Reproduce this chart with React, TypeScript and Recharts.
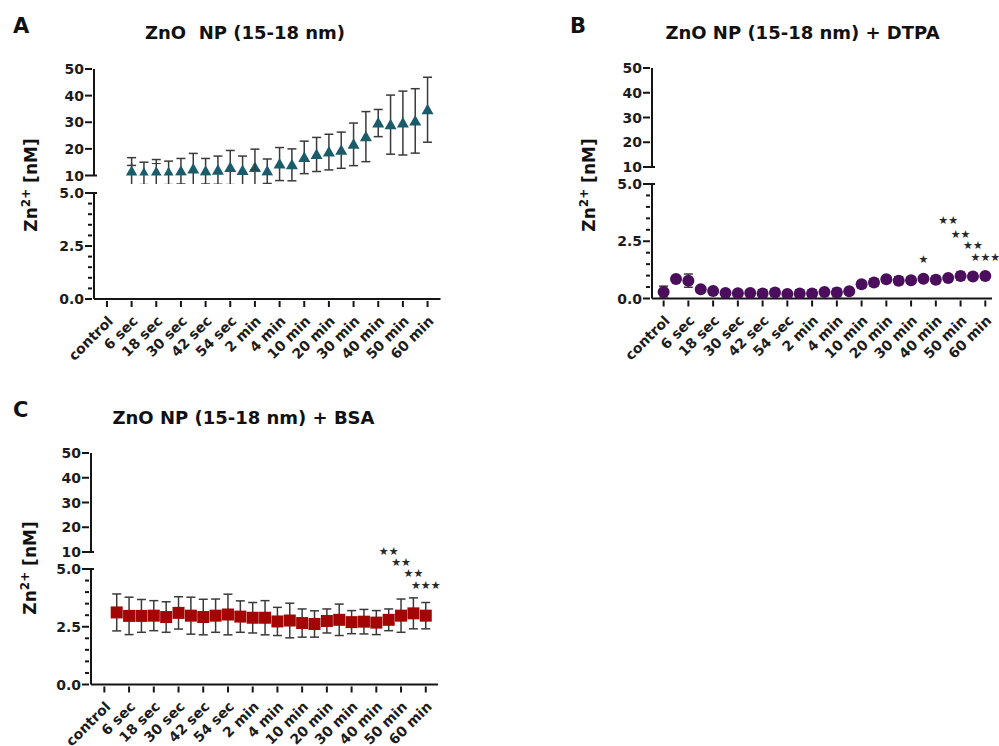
import React from 'react';
import { ScatterChart, Scatter, XAxis, YAxis, ErrorBar } from 'recharts';

// time points on the x axis; only every second one carries a label
const timepoints = [
  'control', '0 sec', '6 sec', '12 sec', '18 sec', '24 sec', '30 sec', '36 sec', '42 sec',
  '48 sec', '54 sec', '1 min', '2 min', '3 min', '4 min', '5 min', '10 min', '15 min',
  '20 min', '25 min', '30 min', '35 min', '40 min', '45 min', '50 min', '55 min', '60 min',
];
const labelledSlots = timepoints.map((_, i) => i).filter((i) => i % 2 === 0);

const upperTicks = [10, 20, 30, 40, 50];
const lowerTicks = [0, 0.5, 1, 1.5, 2, 2.5, 3, 3.5, 4, 4.5, 5];
const lowerMajor = [0, 2.5, 5];

// A: ZnO NP alone
const npMean = [null, null, 11.5, 10.8, 11.2, 11.0, 11.6, 12.4, 11.6, 12.0, 13.0, 11.9, 13.0, 11.6, 14.3, 14.0, 16.8, 17.9, 18.8, 19.5, 21.7, 24.6, 29.7, 29.1, 29.7, 30.5, 34.7];
const npErr = [null, null, 5.2, 4.2, 4.8, 4.4, 4.8, 5.9, 4.8, 5.3, 6.4, 5.4, 6.9, 4.6, 6.2, 6.0, 6.1, 6.4, 6.7, 6.8, 8.0, 9.4, 5.1, 11.1, 12.0, 12.1, 12.2];

// B: + DTPA
const dtpaMean = [0.28, 0.85, 0.78, 0.40, 0.33, 0.24, 0.23, 0.24, 0.22, 0.26, 0.20, 0.22, 0.22, 0.28, 0.26, 0.32, 0.62, 0.70, 0.84, 0.78, 0.80, 0.86, 0.82, 0.90, 0.98, 0.96, 0.98];
const dtpaErr = [0.26, 0.04, 0.29, 0.04, 0.04, 0.03, 0.03, 0.12, 0.16, 0.15, 0.03, 0.16, 0.14, 0.03, 0.18, 0.03, 0.15, 0.16, 0.14, 0.17, 0.13, 0.04, 0.16, 0.04, 0.17, 0.04, 0.12];
const dtpaStarSlots = [21, 23, 24, 25, 26];
const dtpaStarMarks = ['★', '★★', '★★', '★★', '★★★'];
const dtpaStarLevels = [0.85, 2.52, 1.94, 1.42, 0.9];

// C: + BSA
const bsaMean = [null, 3.12, 2.97, 2.97, 2.98, 2.92, 3.10, 2.98, 2.92, 2.98, 3.03, 2.94, 2.89, 2.89, 2.73, 2.77, 2.66, 2.62, 2.75, 2.80, 2.70, 2.72, 2.68, 2.80, 2.98, 3.08, 2.98];
const bsaErr = [null, 0.80, 0.81, 0.71, 0.65, 0.66, 0.70, 0.80, 0.77, 0.72, 0.88, 0.68, 0.66, 0.74, 0.61, 0.75, 0.61, 0.57, 0.52, 0.68, 0.50, 0.53, 0.52, 0.47, 0.72, 0.67, 0.57];
const bsaStarSlots = [23, 24, 25, 26];
const bsaStarMarks = ['★★', '★★', '★★', '★★★'];
const bsaStarLevels = [4.9, 4.42, 3.95, 3.41];

const FONT = '"DejaVu Sans", sans-serif';
const INK = '#151515';
const YW = 60; // y axis width
const MR = 20;
const XH = 80;

const yTick = (majors: number[], breakAt: number, fmt: (v: number) => string) => (props: any) => {
  const { x, y, payload } = props;
  const v = payload.value;
  const major = majors.includes(v);
  return (
    <g>
      <line x1={x - (major ? 7 : 4)} x2={v === breakAt ? x + 5 : x} y1={y} y2={y} stroke={INK} strokeWidth={2} />
      {major && (
        <text x={x - 8} y={y} dy="0.36em" textAnchor="end" fontFamily={FONT} fontWeight="bold" fontSize={14} fill="#1c1c1c">
          {fmt(v)}
        </text>
      )}
    </g>
  );
};

const XTick = (props: any) => {
  const { x, y, payload } = props;
  return (
    <g>
      <line x1={x} x2={x} y1={y} y2={y + 6} stroke={INK} strokeWidth={2} />
      <text transform={`translate(${x + 7},${y + 21}) rotate(-45)`} textAnchor="end" fontFamily={FONT} fontWeight="bold" fontSize={14} fill="#1c1c1c">
        {timepoints[payload.value]}
      </text>
    </g>
  );
};

const triangle = (p: any) => (
  <path d={`M${p.cx},${p.cy - 6}L${p.cx + 6},${p.cy + 4.5}L${p.cx - 6},${p.cy + 4.5}Z`} fill="#1b5c6a" />
);
const circle = (p: any) => <circle cx={p.cx} cy={p.cy} r={6} fill="#4a0e5c" />;
const square = (p: any) => <rect x={p.cx - 6} y={p.cy - 6} width={12} height={12} fill="#a30505" />;
const starText = (p: any) => (
  <text x={p.cx} y={p.cy - 20} textAnchor="middle" dominantBaseline="central" fontFamily={FONT} fontSize={11} fill="#2a2a2a">
    {p.payload.mark}
  </text>
);

const axisLine = { stroke: INK, strokeWidth: 2 };

type Geom = { left: number; right: number; top: number; y10: number; y5: number; y0: number; xMin: number; xMax: number };

function Panel({ g, mean, err, shape, starSlots, starMarks, starLevels }: any) {
  const points = mean
    .map((m: number | null, i: number) => ({ slot: i, mean: m, err: err[i] }))
    .filter((p: any) => p.mean != null);
  const stars = (starSlots || []).map((s: number, i: number) => ({ slot: s, level: starLevels[i], mark: starMarks[i] }));
  const geom = g as Geom;
  const W = YW + (geom.right - geom.left) + MR;
  const topMT = 12;
  const lowMT = 30;
  const xAxis = (hide: boolean) => (
    <XAxis
      type="number"
      dataKey="slot"
      domain={[geom.xMin, geom.xMax]}
      hide={hide}
      ticks={labelledSlots}
      interval={0}
      tick={XTick}
      tickLine={false}
      tickSize={0}
      height={hide ? 0 : XH}
      axisLine={axisLine}
    />
  );
  const series = (
    <Scatter data={points} dataKey="mean" shape={shape} isAnimationActive={false}>
      <ErrorBar dataKey="err" direction="y" width={4.5} stroke="#3a3a3a" strokeWidth={1.5} />
    </Scatter>
  );
  return (
    <>
      <div style={{ position: 'absolute', left: geom.left - YW, top: geom.top - topMT }}>
        <ScatterChart width={W} height={topMT + (geom.y10 - geom.top) + 8} margin={{ top: topMT, right: MR, bottom: 8, left: 0 }}>
          {xAxis(true)}
          <YAxis
            type="number"
            dataKey="mean"
            domain={[10, 50]}
            ticks={upperTicks}
            interval={0}
            allowDataOverflow
            width={YW}
            tickLine={false}
            tickSize={0}
            tick={yTick(upperTicks, 10, (v) => String(v))}
            axisLine={axisLine}
          />
          {series}
        </ScatterChart>
      </div>
      <div style={{ position: 'absolute', left: geom.left - YW, top: geom.y5 - lowMT }}>
        <ScatterChart width={W} height={lowMT + (geom.y0 - geom.y5) + XH} margin={{ top: lowMT, right: MR, bottom: 0, left: 0 }}>
          {xAxis(false)}
          <YAxis
            type="number"
            dataKey="mean"
            domain={[0, 5]}
            ticks={lowerTicks}
            interval={0}
            allowDataOverflow
            width={YW}
            tickLine={false}
            tickSize={0}
            tick={yTick(lowerMajor, 5, (v) => v.toFixed(1))}
            axisLine={axisLine}
          />
          <YAxis yAxisId="stars" type="number" dataKey="level" domain={[0, 5]} hide width={0} />
          {series}
          {stars.length > 0 && (
            <Scatter yAxisId="stars" data={stars} dataKey="level" shape={starText} isAnimationActive={false} />
          )}
        </ScatterChart>
      </div>
    </>
  );
}

const geomA: Geom = { left: 93.5, right: 440, top: 69, y10: 175.5, y5: 192.5, y0: 298.5, xMin: -1.05, xMax: 27.05 };
const geomB: Geom = { left: 651.5, right: 991.5, top: 67.5, y10: 166.5, y5: 184, y0: 298.5, xMin: -0.94, xMax: 26.54 };
const geomC: Geom = { left: 90.5, right: 437.5, top: 452.5, y10: 551.5, y5: 568.5, y0: 684, xMin: -1.08, xMax: 26.99 };

const YLabel = ({ x, y }: { x: number; y: number }) => (
  <text transform={`translate(${x},${y}) rotate(-90)`} textAnchor="middle" fontFamily={FONT} fontWeight="bold" fontSize={17} fill="#111">
    Zn<tspan baselineShift="super" fontSize={12}>2+</tspan> [nM]
  </text>
);

export default function App() {
  const heading = { fontFamily: FONT, fontWeight: 'bold' as const, fill: '#111' };
  return (
    <div style={{ position: 'absolute', left: 0, top: 0, width: 999, height: 746, background: '#fff', overflow: 'hidden' }}>
      <Panel g={geomA} mean={npMean} err={npErr} shape={triangle} />
      <Panel g={geomB} mean={dtpaMean} err={dtpaErr} shape={circle} starSlots={dtpaStarSlots} starMarks={dtpaStarMarks} starLevels={dtpaStarLevels} />
      <Panel g={geomC} mean={bsaMean} err={bsaErr} shape={square} starSlots={bsaStarSlots} starMarks={bsaStarMarks} starLevels={bsaStarLevels} />
      <svg width={999} height={746} style={{ position: 'absolute', left: 0, top: 0, pointerEvents: 'none' }}>
        <text x={13} y={33} fontSize={21} {...heading}>A</text>
        <text x={570} y={33} fontSize={21} {...heading}>B</text>
        <text x={13} y={416.5} fontSize={21} {...heading}>C</text>
        <text x={245} y={39} fontSize={18} textAnchor="middle" style={{ whiteSpace: 'pre' }} {...heading}>ZnO  NP (15-18 nm)</text>
        <text x={802.5} y={39} fontSize={18} textAnchor="middle" {...heading}>ZnO NP (15-18 nm) + DTPA</text>
        <text x={243.5} y={424} fontSize={18} textAnchor="middle" {...heading}>ZnO NP (15-18 nm) + BSA</text>
        <YLabel x={36.5} y={185} />
        <YLabel x={595} y={185} />
        <YLabel x={36} y={568} />
      </svg>
    </div>
  );
}
